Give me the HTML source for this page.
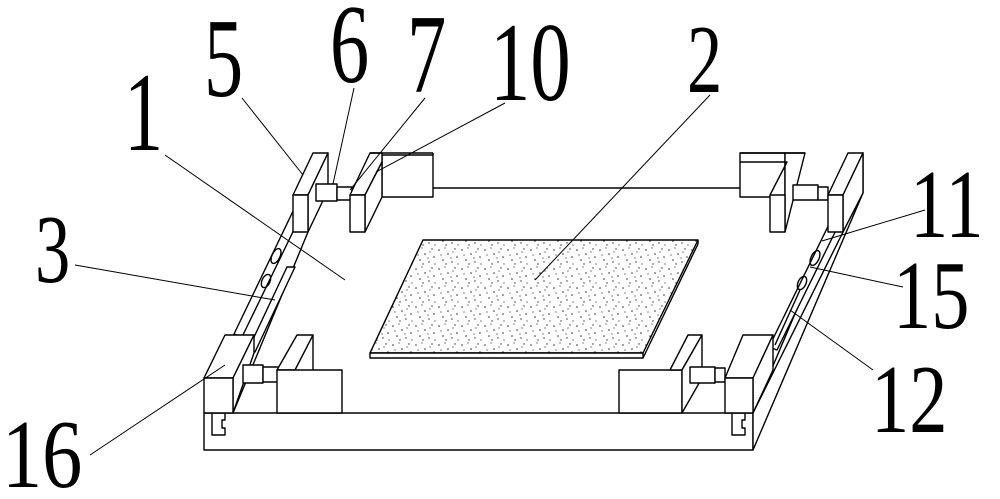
<!DOCTYPE html>
<html><head><style>
html,body{margin:0;padding:0;background:#fff;}
svg{display:block}
text{font-family:"Liberation Serif",serif;fill:#000}
.t{font-size:112px}
.s{font-size:98px}
</style></head><body>
<svg width="1000" height="499" viewBox="0 0 1000 499" xmlns="http://www.w3.org/2000/svg">
<defs>
<pattern id="dots" width="23" height="19" patternUnits="userSpaceOnUse">
<rect width="23" height="19" fill="#fff"/>
<circle cx="2" cy="3" r="0.8" fill="#333"/><circle cx="11" cy="7" r="0.8" fill="#333"/>
<circle cx="18" cy="2" r="0.7" fill="#333"/><circle cx="6" cy="13" r="0.8" fill="#333"/>
<circle cx="15" cy="15" r="0.7" fill="#333"/><circle cx="20" cy="10" r="0.8" fill="#333"/>
<circle cx="9" cy="17" r="0.7" fill="#333"/><circle cx="4" cy="8" r="0.6" fill="#333"/>
<circle cx="14" cy="11" r="0.6" fill="#333"/><circle cx="21" cy="17" r="0.6" fill="#333"/>
<circle cx="8" cy="1" r="0.6" fill="#333"/><circle cx="16" cy="5" r="0.6" fill="#333"/>
</pattern>
</defs>
<g fill="none" stroke="#000" stroke-width="1.4" stroke-linejoin="round">
<rect x="204" y="413" width="549" height="37" fill="#fff"/>
<polygon points="753,413 753,450 863,193 863,153" fill="#fff"/>
<line x1="753" y1="413" x2="843" y2="232"/>
<line x1="433" y1="188" x2="740" y2="188"/>
<line x1="233" y1="413" x2="308" y2="232"/>
<polygon points="423,240 698,240 643,353 370,353" fill="url(#dots)"/>
<polygon points="370,353 643,353 643,358 370,358" fill="#fff"/>
<line x1="643" y1="358" x2="698" y2="244"/><line x1="698" y1="240" x2="698" y2="244"/>
<polygon points="287,267 295,267 255,352 247,352" fill="#fff"/>
<polygon points="296,205 304,209 242,337 234,334" fill="#fff"/>
<ellipse cx="300" cy="208" rx="4" ry="7" transform="rotate(25 300 208)"/>
<ellipse cx="276" cy="256" rx="4" ry="8" transform="rotate(25 276 256)"/>
<ellipse cx="266" cy="281" rx="4" ry="7" transform="rotate(25 266 281)"/>
<polygon points="836,210 844,214 777,350 769,347" fill="#fff"/>
<ellipse cx="840" cy="212" rx="4" ry="7" transform="rotate(25 840 212)"/>
<ellipse cx="815" cy="258" rx="4" ry="8" transform="rotate(25 815 258)"/>
<ellipse cx="802" cy="283" rx="4" ry="7" transform="rotate(25 802 283)"/>
<line x1="800" y1="290" x2="775" y2="345"/>
<polygon points="293,195 313,153 328,153 308,195" fill="#fff"/>
<polygon points="308,195 328,153 328,190 308,232" fill="#fff"/>
<rect x="293" y="195" width="15" height="37" fill="#fff"/>
<rect x="316" y="184" width="21" height="17" fill="#fff"/>
<rect x="337" y="187" width="15" height="13" fill="#fff"/>
<rect x="382" y="155" width="51" height="42" fill="#fff"/>
<polygon points="350,195 370,153 382,153 382,162 365,195" fill="#fff"/>
<line x1="370" y1="153" x2="433" y2="153"/><line x1="433" y1="153" x2="433" y2="155"/>
<polygon points="365,195 382,162 382,197 365,232" fill="#fff"/>
<rect x="350" y="195" width="15" height="37" fill="#fff"/>
<rect x="740" y="153" width="45" height="44" fill="#fff"/>
<polygon points="785,153 805,153 785,232 785,197" fill="#fff"/>
<polyline points="740,153 805,153"/>
<polyline points="770,195 787,162 740,162" />
<polygon points="770,195 785,195 785,232 770,232" fill="#fff"/>
<rect x="793" y="185" width="25" height="15" fill="#fff"/>
<rect x="818" y="187" width="10" height="13" fill="#fff"/>
<polygon points="828,195 848,153 863,153 843,195" fill="#fff"/>
<polygon points="843,195 863,153 863,193 843,232" fill="#fff"/>
<rect x="828" y="195" width="15" height="37" fill="#fff"/>
<polygon points="204,378 225,335 254,335 233,378" fill="#fff"/>
<polygon points="233,378 254,335 254,353 233,413" fill="#fff"/>
<rect x="204" y="378" width="29" height="35" fill="#fff"/>
<rect x="243" y="365" width="20" height="18" fill="#fff"/>
<rect x="263" y="367" width="17" height="15" fill="#fff"/>
<polygon points="277,370 297,335 313,335 295,370" fill="#fff"/>
<rect x="277" y="370" width="65" height="43" fill="#fff"/>
<line x1="313" y1="335" x2="313" y2="370"/>
<rect x="619" y="370" width="63" height="43" fill="#fff"/>
<polygon points="670,370 688,335 702,335 682,370" fill="#fff"/>
<polygon points="682,370 702,335 702,378 682,413" fill="#fff"/>
<rect x="690" y="367" width="25" height="16" fill="#fff"/>
<rect x="715" y="368" width="10" height="14" fill="#fff"/>
<polygon points="725,378 743,335 773,335 753,378" fill="#fff"/>
<polygon points="753,378 773,335 773,370 753,413" fill="#fff"/>
<rect x="725" y="378" width="28" height="35" fill="#fff"/>
<polyline points="212,413 212,435 225,435 225,428 222,428 222,420 225,420 225,413"/>
<polyline points="732,413 732,435 745,435 745,428 742,428 742,420 745,420 745,413"/>
</g>
<g stroke="#000" stroke-width="1">
<line x1="242" y1="98" x2="303" y2="175"/>
<line x1="354" y1="88" x2="333" y2="184"/>
<line x1="425" y1="98" x2="350" y2="190"/>
<line x1="505" y1="103" x2="376" y2="172"/>
<line x1="165" y1="155" x2="345" y2="280"/>
<line x1="710" y1="95" x2="535" y2="280"/>
<line x1="75" y1="265" x2="275" y2="300"/>
<line x1="925" y1="210" x2="822" y2="241"/>
<line x1="903" y1="287" x2="810" y2="267"/>
<line x1="873" y1="370" x2="790" y2="310"/>
<line x1="90" y1="455" x2="225" y2="365"/>
</g>
<g>
<text class="t" transform="translate(204,96) scale(0.7,1)">5</text>
<text class="t" transform="translate(330,82) scale(0.7,1)">6</text>
<text class="t" transform="translate(407,92) scale(0.7,1)">7</text>
<text class="t" transform="translate(490,100) scale(0.72,1)">10</text>
<text class="t" transform="translate(124,150) scale(0.7,1)">1</text>
<text class="s" transform="translate(687,92) scale(0.72,1)">2</text>
<text class="s" transform="translate(35,282) scale(0.72,1)">3</text>
<text class="s" transform="translate(910,237) scale(0.78,1)">11</text>
<text class="s" transform="translate(893,328) scale(0.78,1)">15</text>
<text class="s" transform="translate(871,432) scale(0.78,1)">12</text>
<text class="s" transform="translate(2,487) scale(0.82,1)">16</text>
</g>
</svg>
</body></html>
